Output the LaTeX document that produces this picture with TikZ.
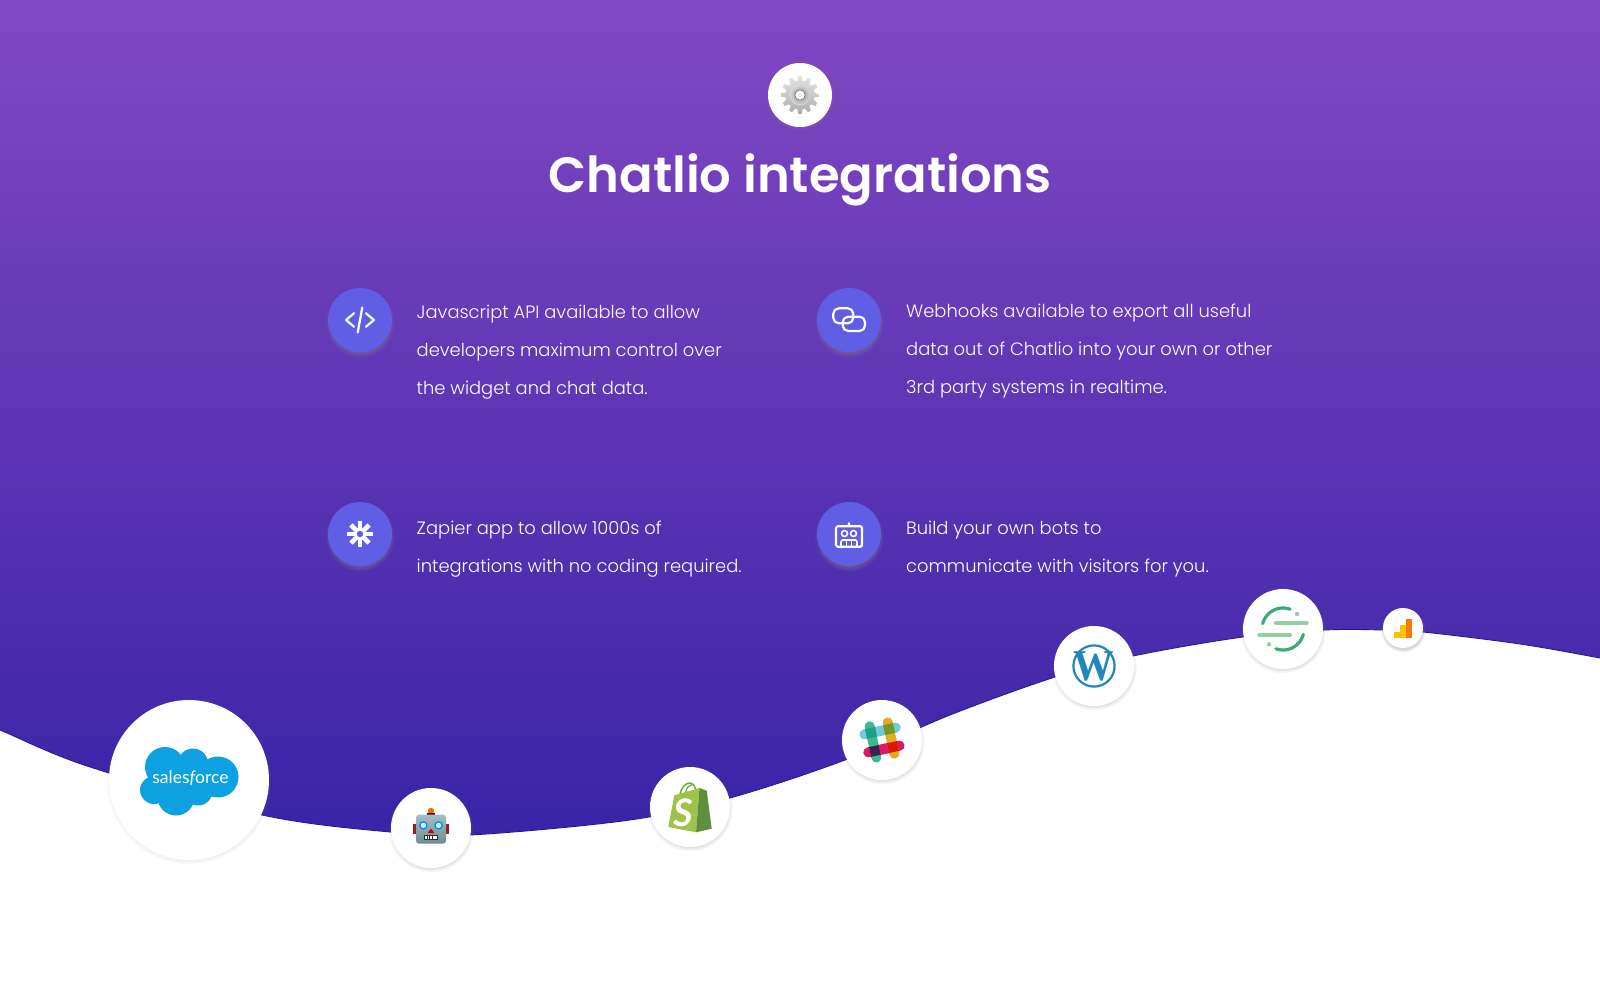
\documentclass[tikz,border=0pt]{standalone}
\usepackage{fontspec}
\usetikzlibrary{shadows}
\setmainfont{Poppins Light}
\newfontfamily\titlefont{Poppins SemiBold}
\newfontfamily\logofont{Lato}
\newfontfamily\wpfont{Liberation Serif}
\definecolor{gradtop}{HTML}{8248C3}
\definecolor{gradbot}{HTML}{3823A6}
\definecolor{edgeblue}{HTML}{2A12A0}
\definecolor{iconblue}{HTML}{5F5EE5}
\definecolor{sfblue}{HTML}{0EA1E2}
\definecolor{wpblue}{HTML}{2187B9}
\definecolor{seggreen}{HTML}{3AAB78}
\definecolor{seglight}{HTML}{93CFA4}
\definecolor{headtop}{HTML}{A3BEC4}
\definecolor{headbot}{HTML}{6F8D90}
\tikzset{
  logodisc/.style 2 args={circle,fill=white,inner sep=0pt,minimum size=#1,
    circular drop shadow={shadow xshift=0pt,shadow yshift=-1.5pt,shadow scale=#2,opacity=.32}},
  icondisc/.style={circle,fill=iconblue,inner sep=0pt,minimum size=64pt,
    circular drop shadow={shadow xshift=0pt,shadow yshift=-2.5pt,shadow scale=1.09,opacity=.4}},
  bodytext/.style={anchor=west,align=left,text=white,inner sep=0pt,font=\fontsize{17.9}{38}\selectfont},
  iconline/.style={draw=white,line width=2.2pt,line cap=round,line join=round},
}
\begin{document}
\begin{tikzpicture}[x=1pt,y=-1pt]
\useasboundingbox (0,0) rectangle (1600,1000);
\fill[white] (0,0) rectangle (1600,1000);
\shade[top color=gradtop,bottom color=gradbot] (0,0) rectangle (1600,845);
\fill[white] plot[smooth,tension=.55] coordinates {(-30,718) (0,730) (90,767) (262,815) (390,832) (470,835) (630,820) (730,798) (845,760) (950,715) (1055,677) (1133,656) (1243,637) (1325,630) (1383,630) (1423,632) (1520,644) (1600,658) (1630,664)} -- (1630,1000) -- (-30,1000) -- cycle;
\draw[edgeblue,line width=.9pt] plot[smooth,tension=.55] coordinates {(-30,718) (0,730) (90,767) (262,815) (390,832) (470,835) (630,820) (730,798) (845,760) (950,715) (1055,677) (1133,656) (1243,637) (1325,630) (1383,630) (1423,632) (1520,644) (1600,658) (1630,664)};

% gear
\node[logodisc={64pt}{1.07}] (gear) at (800,95) {};
\begin{scope}[shift={(gear.center)}]
\shade[top color=gray!22,bottom color=gray!65]
  (0:19) \foreach \a in {0,30,...,330} { -- (\a-5:19) -- (\a+5:19) -- (\a+10:14.5) -- (\a+20:14.5)} -- cycle;
\shade[inner color=gray!95,outer color=gray!28] (0,0) circle (10.5);
\fill[white!90!gray] (0,0) circle (5);
\draw[gray!85!black,line width=.5pt] (0,0) circle (5.2);
\end{scope}

% title
\node[text=white,inner sep=0pt,font=\titlefont\fontsize{49.6}{60}\selectfont] (title) at (800,180) {Chatlio integrations};

% feature icons
\node[icondisc] (api) at (360,320) {};
\node[icondisc] (hook) at (849,320) {};
\node[icondisc] (zap) at (360,534) {};
\node[icondisc] (bot) at (849,534) {};
\begin{scope}[shift={(api.center)}]
\draw[iconline] (-6,-6.7) -- (-14,0) -- (-6,6.7);
\draw[iconline] (6,-6.7) -- (14,0) -- (6,6.7);
\draw[iconline] (2.3,-12.5) -- (-2.3,12.5);
\end{scope}
\begin{scope}[shift={(hook.center)}]
\draw[iconline,rounded corners=5.5pt] (-15.7,-11.7) rectangle (4.3,3.3);
\draw[iconline,rounded corners=5.5pt] (-6.3,-3.3) rectangle (16,11);
\end{scope}
\begin{scope}[shift={(zap.center)}]
\foreach \a in {0,45,90,135} \draw[white,line width=4.6pt] (\a:-12.8) -- (\a:12.8);
\fill[iconblue] (0,0) circle (3.2);
\end{scope}
\begin{scope}[shift={(bot.center)}]
\draw[iconline,rounded corners=1.5pt] (-13,-7.7) rectangle (13,12.7);
\fill[white] (-2,-8) -- (0,-12.5) -- (2,-8) -- cycle;
\draw[white,line width=1.6pt] (-4.5,-0.5) circle (3);
\draw[white,line width=1.6pt] (4.5,-0.5) circle (3);
\draw[white,line width=1.6pt] (-8,12.5) -- (-8,8) .. controls (-8,6.5) and (-7,6) .. (-6,6) -- (6,6) .. controls (7,6) and (8,6.5) .. (8,8) -- (8,12.5);
\draw[white,line width=1.4pt] (-2.7,6) -- (-2.7,12) (2.7,6) -- (2.7,12);
\end{scope}

% feature texts
\node[bodytext] (t1) at (416.5,351.7) {Javascript API available to allow\\developers maximum control over\\the widget and chat data.};
\node[bodytext] (t2) at (906,350.7) {Webhooks available to export all useful\\data out of Chatlio into your own or other\\3rd party systems in realtime.};
\node[bodytext] (t3) at (416.5,549) {Zapier app to allow 1000s of\\integrations with no coding required.};
\node[bodytext] (t4) at (906,549) {Build your own bots to\\communicate with visitors for you.};

% logo discs
\node[logodisc={160pt}{1.035}] (sf) at (189,780) {};
\node[logodisc={80pt}{1.07}] (robot) at (431,828) {};
\node[logodisc={80pt}{1.07}] (shop) at (690,807) {};
\node[logodisc={80pt}{1.07}] (slack) at (882,740) {};
\node[logodisc={80pt}{1.07}] (wp) at (1094,666) {};
\node[logodisc={80pt}{1.07}] (seg) at (1283,629) {};
\node[logodisc={40pt}{1.13}] (ga) at (1403,628) {};

% salesforce
\begin{scope}[shift={(sf.center)}]
\fill[sfblue] (-24,-13) circle (20) (4,-16.5) circle (15) (29,-3) circle (20.5) (-35,10) circle (14) (-13,17) circle (18.5) (9,11) circle (14.5) (0,0) circle (18) (18,5) circle (12);
\node[text=white,inner sep=0pt,font=\logofont\fontsize{17.5}{20}\selectfont] (sfname) at (1.5,-2) {sales{\itshape f}orce};
\end{scope}

% robot emoji
\begin{scope}[shift={(robot.center)}]
\fill[red!60!black!90] (-18.3,-3.7) rectangle (18.3,6.3);
\fill[orange!90!black] (0,-17) circle (3.2);
\fill[black!60!red] (-4,-15) rectangle (4,-12.8);
\shade[top color=headtop,bottom color=headbot,rounded corners=3pt] (-15,-13.3) rectangle (15,15.7);
\foreach \s in {-1,1} {
  \fill[white!85!cyan] (\s*7.6,-2.6) circle (3.6);
  \draw[blue!45!cyan,line width=1.3pt] (\s*7.6,-2.6) circle (3.6);
}
\fill[red!80!black] (0,0.5) -- (-3.3,5) -- (3.3,5) -- cycle;
\fill[gray!35!black] (-6.8,6.5) rectangle (6.8,11.5);
\foreach \x in {-5.2,-2.6,0,2.6,5.2} \fill[white] (\x-.9,7.5) rectangle (\x+.9,10.5);
\end{scope}

% shopify
\begin{scope}[shift={(shop.center)}]
\draw[green!45!black!70!lime!80,line width=1.4pt] (-10,-12) .. controls (-9,-20) and (-4,-24) .. (-.5,-24) .. controls (3,-24) and (5.5,-21) .. (5.5,-16);
\draw[green!45!black!70!lime!80,line width=1.2pt] (-4.5,-14) .. controls (-3,-20) and (-1,-22) .. (2,-22.5);
\fill[color={rgb,255:red,157;green,196;blue,72}] (-21.7,20) -- (-15.7,-11.7) -- (9.5,-19) -- (6,25.3) -- cycle;
\fill[color={rgb,255:red,94;green,142;blue,62}] (9.5,-19) -- (16.7,-16.3) -- (21.7,21.7) -- (6,25.3) -- cycle;
\node[text=white,inner sep=0pt,font=\logofont\bfseries\itshape\fontsize{38}{38}\selectfont] (shops) at (-7,6) {S};
\end{scope}

% slack
\begin{scope}[shift={(slack.center)},rotate=12]
\fill[color={rgb,255:red,112;green,202;blue,219},rounded corners=5pt] (-21,-14.2) rectangle (21,-4.2);
\fill[color={rgb,255:red,224;green,23;blue,101},rounded corners=5pt] (-21,4.2) rectangle (21,14.2);
\fill[color={rgb,255:red,62;green,184;blue,144},rounded corners=5pt] (-14.2,-21) rectangle (-4.2,21);
\fill[color={rgb,255:red,233;green,168;blue,32},rounded corners=5pt] (4.2,-21) rectangle (14.2,21);
\fill[color={rgb,255:red,31;green,159;blue,140}] (-14.2,-14.2) rectangle (-4.2,-4.2);
\fill[color={rgb,255:red,111;green,154;blue,43}] (4.2,-14.2) rectangle (14.2,-4.2);
\fill[color={rgb,255:red,63;green,30;blue,80}] (-14.2,4.2) rectangle (-4.2,14.2);
\fill[color={rgb,255:red,217;green,26;blue,11}] (4.2,4.2) rectangle (14.2,14.2);
\fill[color={rgb,255:red,224;green,23;blue,101}] (-4.2,4.2) rectangle (4.2,14.2);
\end{scope}

% wordpress
\begin{scope}[shift={(wp.center)}]
\draw[wpblue,line width=2.2pt] (0,0) circle (20.6);
\node[text=wpblue,inner sep=0pt,font=\wpfont\bfseries\fontsize{44}{44}\selectfont,xscale=.92] (wpw) at (0,.5) {W};
\end{scope}

% segment
\begin{scope}[shift={(seg.center)}]
\draw[seggreen,line width=3.2pt,line cap=round] plot[domain=70:165,samples=30] ({21*cos(\x)},{-21*sin(\x)});
\draw[seggreen,line width=3.2pt,line cap=round] plot[domain=250:345,samples=30] ({21*cos(\x)},{-21*sin(\x)});
\draw[seglight,line width=4pt,line cap=round] (-7,-6) -- (23.7,-6);
\draw[seglight,line width=4pt,line cap=round] (-23.7,6) -- (7,6);
\fill[seglight] (14,-15) circle (2.2) (-14,15.3) circle (2.2);
\end{scope}

% analytics
\begin{scope}[shift={(ga.center)}]
\fill[color={rgb,255:red,255;green,193;blue,7}] (-9,4) rectangle (-1.7,9.7);
\fill[color={rgb,255:red,255;green,193;blue,7}] (-3.3,-2.7) rectangle (3.3,9.7);
\fill[color={rgb,255:red,245;green,124;blue,0}] (3.3,-8.7) rectangle (9,9.7);
\end{scope}
\end{tikzpicture}
\end{document}
